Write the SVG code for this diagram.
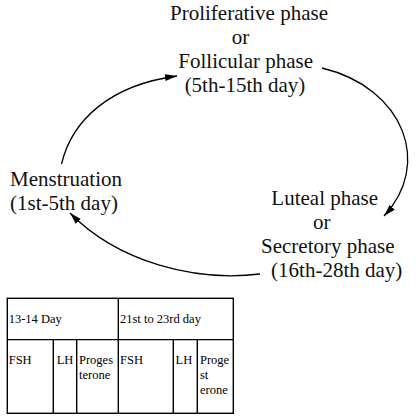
<svg xmlns="http://www.w3.org/2000/svg" width="417" height="420" viewBox="0 0 417 420">
<defs>
<marker id="arr" markerUnits="userSpaceOnUse" markerWidth="13" markerHeight="8" refX="12" refY="3.5" orient="auto">
<path d="M0,0 L12,3.5 L0,7 z" fill="#000"/>
</marker>
</defs>
<style>
text{font-family:'Liberation Serif','Times New Roman',Times,serif}
.t{font-size:21px;fill:#111}
.m{text-anchor:middle}
.c{fill:none;stroke:#000;stroke-width:1.3}
.tb{fill:none;stroke:#000;stroke-width:1.4}
.s{font-size:12.5px;fill:#000}
</style>
<rect width="417" height="420" fill="#fff"/>
<g id="proliferative">
<text class="t m" x="249" y="20">Proliferative phase</text>
<text class="t m" x="240.5" y="43.5">or</text>
<text class="t m" x="245.7" y="68">Follicular phase</text>
<text class="t m" x="245" y="91.5">(5th-15th day)</text>
</g>
<g id="luteal">
<text class="t m" x="324.7" y="205">Luteal phase</text>
<text class="t m" x="321.7" y="228.5">or</text>
<text class="t m" x="327.8" y="253">Secretory phase</text>
<text class="t m" x="336.7" y="276.5">(16th-28th day)</text>
</g>
<g id="menstruation">
<text class="t" x="10" y="186">Menstruation</text>
<text class="t" x="10" y="210">(1st-5th day)</text>
</g>
<g id="connectors">
<path class="c" d="M61.5,164 C72,120 110,85 177,76" marker-end="url(#arr)"/>
<path class="c" d="M322,68 C405,88 432,165 384,216" marker-end="url(#arr)"/>
<path class="c" d="M260,274 C195,282 118,262 70,213" marker-end="url(#arr)"/>
</g>
<g id="table">
<rect class="tb" x="7.3" y="298.3" width="226" height="115"/>
<line class="tb" x1="7.3" y1="339.6" x2="233.3" y2="339.6"/>
<line class="tb" x1="118.3" y1="298.3" x2="118.3" y2="413.3"/>
<line class="tb" x1="53.3" y1="339.6" x2="53.3" y2="413.3"/>
<line class="tb" x1="76.7" y1="339.6" x2="76.7" y2="413.3"/>
<line class="tb" x1="173.3" y1="339.6" x2="173.3" y2="413.3"/>
<line class="tb" x1="197.3" y1="339.6" x2="197.3" y2="413.3"/>
<text class="s" x="8.7" y="323.3">13-14 Day</text>
<text class="s" x="120" y="323.3">21st to 23rd day</text>
<text class="s" x="8.7" y="364">FSH</text>
<text class="s" x="56.7" y="364">LH</text>
<text class="s" x="79" y="364">Proges</text>
<text class="s" x="79" y="378.5">terone</text>
<text class="s" x="120" y="364">FSH</text>
<text class="s" x="175.5" y="364">LH</text>
<text class="s" x="200" y="364">Proge</text>
<text class="s" x="200" y="379">st</text>
<text class="s" x="200" y="394">erone</text>
</g>
</svg>
